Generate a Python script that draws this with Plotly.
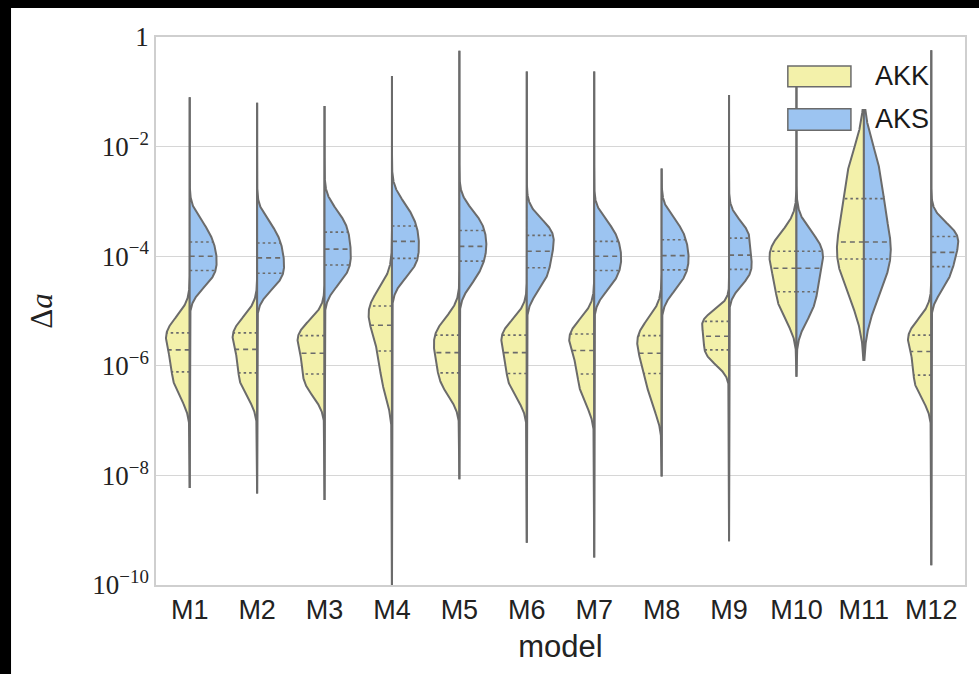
import numpy as np
import plotly.graph_objects as go

# ---------------- data (log10 of Δa) ----------------
MODELS = ["M1", "M2", "M3", "M4", "M5", "M6", "M7", "M8", "M9", "M10", "M11", "M12"]
GROUPS = ["AKK", "AKS"]

# representative samples (log10 Δa) read from each half-violin
AKK_LOG10 = [
    [-6.48, -6.30, -6.11, -5.90, -5.71, -5.55, -5.40, -5.31, -5.24],
    [-6.45, -6.30, -6.13, -5.90, -5.70, -5.55, -5.40, -5.31, -5.24],
    [-6.45, -6.31, -6.15, -5.95, -5.77, -5.61, -5.45, -5.37, -5.30],
    [-6.40, -6.08, -5.73, -5.48, -5.26, -5.08, -4.91, -4.86, -4.80],
    [-6.45, -6.28, -6.13, -5.90, -5.76, -5.64, -5.44, -5.35, -5.20],
    [-6.48, -6.32, -6.14, -5.94, -5.76, -5.60, -5.44, -5.36, -5.28],
    [-6.58, -6.38, -6.15, -5.92, -5.72, -5.56, -5.42, -5.36, -5.30],
    [-6.68, -6.42, -6.14, -5.95, -5.77, -5.61, -5.45, -5.37, -5.27],
    [-5.92, -5.81, -5.71, -5.58, -5.46, -5.34, -5.19, -5.14, -5.08],
    [-5.07, -4.86, -4.65, -4.42, -4.22, -4.06, -3.91, -3.79, -3.66],
    [-4.75, -4.35, -4.05, -3.88, -3.74, -3.35, -2.95, -2.60, -2.25],
    [-6.48, -6.34, -6.17, -5.94, -5.74, -5.58, -5.44, -5.36, -5.28],
]
AKS_LOG10 = [
    [-4.50, -4.39, -4.26, -4.13, -4.00, -3.87, -3.74, -3.58, -3.38],
    [-4.53, -4.43, -4.31, -4.17, -4.03, -3.90, -3.76, -3.60, -3.41],
    [-4.44, -4.31, -4.16, -4.02, -3.87, -3.72, -3.56, -3.40, -3.23],
    [-4.30, -4.18, -4.04, -3.88, -3.73, -3.59, -3.45, -3.27, -3.08],
    [-4.44, -4.27, -4.09, -3.95, -3.82, -3.68, -3.53, -3.38, -3.23],
    [-4.56, -4.39, -4.21, -4.06, -3.91, -3.76, -3.62, -3.51, -3.42],
    [-4.56, -4.41, -4.26, -4.13, -4.00, -3.87, -3.73, -3.57, -3.41],
    [-4.56, -4.41, -4.25, -4.12, -3.99, -3.85, -3.70, -3.54, -3.38],
    [-4.46, -4.36, -4.24, -4.11, -3.98, -3.83, -3.67, -3.55, -3.44],
    [-5.07, -4.86, -4.65, -4.43, -4.22, -4.06, -3.91, -3.78, -3.65],
    [-4.75, -4.35, -4.05, -3.88, -3.74, -3.36, -2.95, -2.58, -2.22],
    [-4.56, -4.39, -4.19, -4.06, -3.93, -3.78, -3.64, -3.56, -3.50],
]
# extreme values (log10) reached by the thin violin tails
TAIL_LO = [-8.23, -8.33, -8.45, -10.3, -8.07, -9.23, -9.50, -8.02, -9.20, -6.20, -5.91, -9.64]
TAIL_HI = [-1.10, -1.20, -1.26, -0.71, -0.25, -0.63, -0.63, -2.40, -1.06, -0.90, -1.33, -0.24]

Y_TICK_EXP = [-10, -8, -6, -4, -2, 0]
Y_TICK_TEXT = ["10<sup>\u221210</sup>", "10<sup>\u22128</sup>", "10<sup>\u22126</sup>",
               "10<sup>\u22124</sup>", "10<sup>\u22122</sup>", "1"]

# ---------------- style ----------------
COLORS = {"AKK": "#F3F1AA", "AKS": "#9CC4F1"}
GRAY = "#6b6b6b"
BANDWIDTH = 0.6      # kernel bandwidth as a fraction of the sample std
HALF_WIDTH = 0.4     # max half-violin width (category units)


def kde(samples, grid):
    s = np.asarray(samples, dtype=float)
    bw = BANDWIDTH * s.std(ddof=1)
    z = (grid[:, None] - s[None, :]) / bw
    return np.exp(-0.5 * z ** 2).sum(axis=1) / (len(s) * bw * np.sqrt(2 * np.pi))


fig = go.Figure()

median_x, median_y, quart_x, quart_y = [], [], [], []

for i, model in enumerate(MODELS):
    grid = np.linspace(TAIL_LO[i], TAIL_HI[i], 900)
    halves = {"AKK": AKK_LOG10[i], "AKS": AKS_LOG10[i]}
    dens = {g: kde(halves[g], grid) for g in GROUPS}
    scale = HALF_WIDTH / max(dens[g].max() for g in GROUPS)
    for g in GROUPS:
        sign = -1 if g == "AKK" else 1
        xs = np.concatenate([i + sign * dens[g] * scale, np.full(len(grid), i)[::-1]])
        ys = np.concatenate([10 ** grid, (10 ** grid)[::-1]])
        fig.add_trace(go.Scatter(
            x=xs, y=ys, mode="lines", fill="toself", fillcolor=COLORS[g],
            line=dict(color=GRAY, width=2), showlegend=False, hoverinfo="skip",
            name=g))
        q1, q2, q3 = np.percentile(halves[g], [25, 50, 75])
        for q, bx, by in [(q1, quart_x, quart_y), (q2, median_x, median_y), (q3, quart_x, quart_y)]:
            w = kde(halves[g], np.array([q]))[0] * scale
            bx += [i, i + sign * w, None]
            by += [10 ** q, 10 ** q, None]

fig.add_trace(go.Scatter(x=median_x, y=median_y, mode="lines",
                         line=dict(color=GRAY, width=1.6, dash="5px,4px"),
                         showlegend=False, hoverinfo="skip"))
fig.add_trace(go.Scatter(x=quart_x, y=quart_y, mode="lines",
                         line=dict(color=GRAY, width=1.6, dash="2.5px,3px"),
                         showlegend=False, hoverinfo="skip"))

# legend (patches + text)
shapes = []
annotations = []
LEG_Y = [(0.909, 0.947), (0.830, 0.869)]
for g, (y0, y1) in zip(GROUPS, LEG_Y):
    shapes.append(dict(type="rect", xref="paper", yref="paper", x0=0.781, x1=0.859,
                       y0=y0, y1=y1, fillcolor=COLORS[g], line=dict(color=GRAY, width=1.5)))
    annotations.append(dict(xref="paper", yref="paper", x=0.886, y=(y0 + y1) / 2,
                            xanchor="left", yanchor="middle", text=g, showarrow=False,
                            font=dict(family="Liberation Sans, Arial", size=27, color="#1a1a1a")))

# black strips of the original screenshot frame (top and left edges)
shapes.append(dict(type="rect", xref="paper", yref="paper", x0=-0.25, x1=-0.1792,
                   y0=-0.25, y1=1.1, fillcolor="black", line=dict(width=0), layer="above"))
shapes.append(dict(type="rect", xref="paper", yref="paper", x0=-0.25, x1=1.1,
                   y0=1.0529, y1=1.1, fillcolor="black", line=dict(width=0), layer="above"))

fig.update_layout(
    width=979, height=674, autosize=False,
    margin=dict(l=156, r=14, t=37, b=89),
    paper_bgcolor="white", plot_bgcolor="white",
    shapes=shapes, annotations=annotations,
    showlegend=False,
)
fig.update_xaxes(
    range=[-0.5, len(MODELS) - 0.5], tickvals=list(range(len(MODELS))), ticktext=MODELS,
    showgrid=False, zeroline=False, showline=True, mirror=True, linecolor="#cfcfcf", linewidth=1.5,
    ticks="", tickfont=dict(family="Liberation Sans, Arial", size=27, color="#222"),
    title=dict(text="model", font=dict(family="Liberation Sans, Arial", size=31, color="#222"), standoff=11),
)
fig.update_yaxes(
    type="log", range=[-10, 0],
    tickvals=[10.0 ** e for e in Y_TICK_EXP], ticktext=Y_TICK_TEXT,
    showgrid=True, gridcolor="#d6d6d6", gridwidth=1.3, zeroline=False,
    showline=True, mirror=True, linecolor="#cfcfcf", linewidth=1.5, ticks="",
    tickfont=dict(family="Liberation Serif, DejaVu Serif", size=27, color="#222"),
    title=dict(text="\u0394<i>a</i>", font=dict(family="Liberation Serif, DejaVu Serif", size=31, color="#222"), standoff=30),
)

fig.write_html("out.html", config={"displayModeBar": False},
               post_script="document.body.style.margin='0';document.body.style.overflow='hidden';")
